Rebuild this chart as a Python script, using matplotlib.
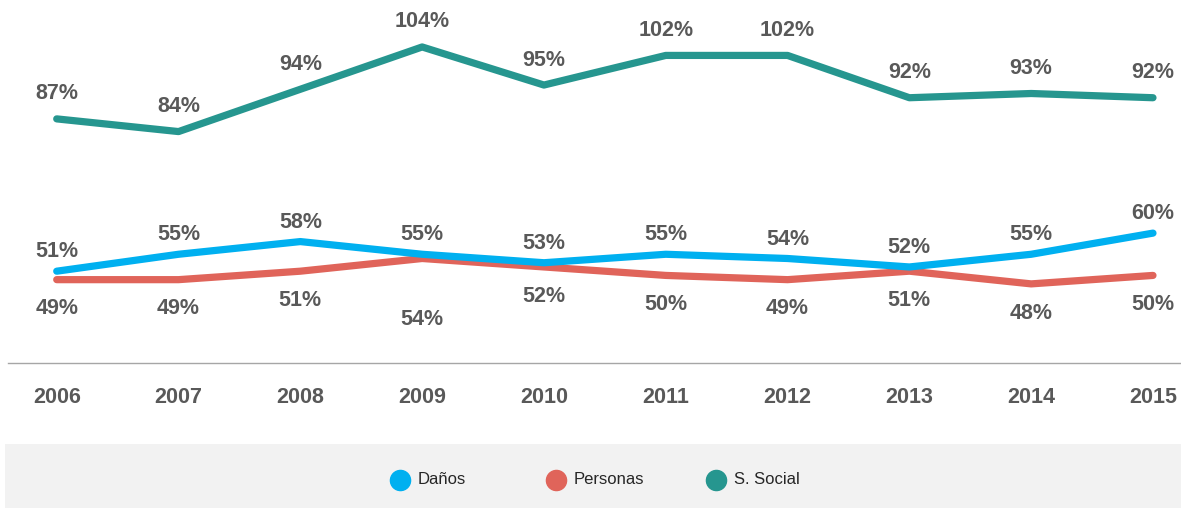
import numpy as np
import matplotlib.pyplot as plt
from matplotlib.patches import Rectangle
from matplotlib.lines import Line2D

years = [2006, 2007, 2008, 2009, 2010, 2011, 2012, 2013, 2014, 2015]
danos = [51, 55, 58, 55, 53, 55, 54, 52, 55, 60]
personas = [49, 49, 51, 54, 52, 50, 49, 51, 48, 50]
social = [87, 84, 94, 104, 95, 102, 102, 92, 93, 92]
series_names = ["Daños", "Personas", "S. Social"]

colors = ["#00b0f0", "#e0645a", "#26968f"]
text_color = "#595959"
font = ["Liberation Sans Narrow", "Liberation Sans", "DejaVu Sans"]

W, H = 1181, 508
fig = plt.figure(figsize=(W / 100, H / 100), dpi=100)

# main plot area: x 8..1181 px, y 0..363 px
ax = fig.add_axes([8 / W, 1 - 363 / H, 1 - 8 / W, 363 / H])
ax.set_xlim(2005.6, 2015.23)
ax.set_ylim(29.3, 115.1)

for vals, c in zip([social, personas, danos], [colors[2], colors[1], colors[0]]):
    ax.plot(years, vals, color=c, lw=5.2, solid_capstyle="round",
            solid_joinstyle="round", zorder=3)

lab_kw = dict(ha="center", va="center", fontsize=15.5, fontweight="bold",
              color=text_color, family=font)
for x, v in zip(years, social):
    ax.annotate(f"{v}%", (x, v), xytext=(0, 18), textcoords="offset points", **lab_kw)
for x, v in zip(years, danos):
    ax.annotate(f"{v}%", (x, v), xytext=(0, 14), textcoords="offset points", **lab_kw)
for x, v in zip(years, personas):
    dy = -44 if x == 2009 else -21
    ax.annotate(f"{v}%", (x, v), xytext=(0, dy), textcoords="offset points", **lab_kw)

for s in ["top", "right", "left"]:
    ax.spines[s].set_visible(False)
ax.spines["bottom"].set_color("#a6a6a6")
ax.spines["bottom"].set_linewidth(1.0)
ax.set_yticks([])
ax.set_xticks(years)
ax.set_xticklabels([str(y) for y in years], fontsize=15.5, fontweight="bold",
                   color=text_color, family=font)
ax.tick_params(axis="x", length=0, pad=17)

# legend band
fig.patches.append(Rectangle((5 / W, 0), 1 - 5 / W, (H - 444) / H,
                             transform=fig.transFigure, facecolor="#f2f2f2",
                             edgecolor="none", zorder=0))
leg_x = [400, 556, 716]
leg_y = 1 - 480 / H
for name, c, px in zip(series_names, colors, leg_x):
    fig.add_artist(Line2D([px / W], [leg_y], marker="o", ls="none", markersize=14.5,
                          markerfacecolor=c, markeredgecolor=c,
                          transform=fig.transFigure))
    fig.text((px + 18) / W, leg_y, name, ha="left", va="center", fontsize=12,
             color="#262626", family=["Liberation Sans", "DejaVu Sans"])

fig.savefig("out.png", dpi=100)
